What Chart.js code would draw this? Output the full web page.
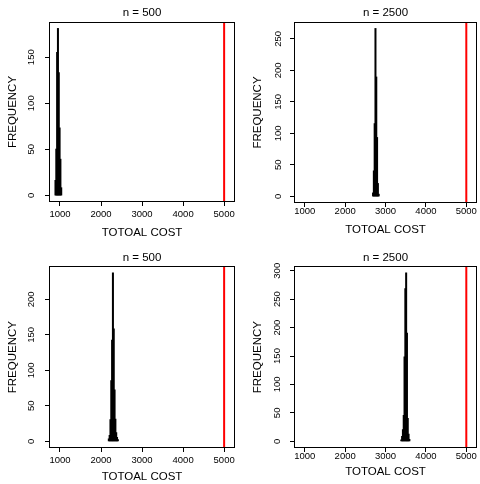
<!DOCTYPE html>
<html><head><meta charset="utf-8">
<script src="https://cdn.jsdelivr.net/npm/chart.js@4.4.1/dist/chart.umd.min.js"></script>
<style>
html,body{margin:0;padding:0;background:#fff;}
#grid{position:relative;width:480px;height:484px;background:#fff;}
.cell{position:absolute;width:240px;height:242px;}
canvas{display:block;}
</style></head><body>
<div id="grid">
<div class="cell" style="left:0;top:0"><canvas id="c1" width="240" height="242"></canvas></div>
<div class="cell" style="left:240px;top:0"><canvas id="c2" width="240" height="242"></canvas></div>
<div class="cell" style="left:0;top:242px"><canvas id="c3" width="240" height="242"></canvas></div>
<div class="cell" style="left:240px;top:242px"><canvas id="c4" width="240" height="242"></canvas></div>
</div>
<script>
// ---- data ----
const panelTitles = ['n = 500', 'n = 2500', 'n = 500', 'n = 2500'];
const xAxisLabel = 'TOTOAL COST';
const yAxisLabel = 'FREQUENCY';
const threshold = 5000;
const xTicks = [1000, 2000, 3000, 4000, 5000];

const costBins1 = [890, 910, 930, 950, 970, 990, 1010, 1030];
const freq1     = [16, 50, 155, 181, 133, 73, 39, 8];
const yTicks1   = [0, 50, 100, 150];

const costBins2 = [2690, 2710, 2730, 2750, 2770, 2790, 2810, 2830];
const freq2     = [5, 40, 115, 266, 189, 93, 20, 3];
const yTicks2   = [0, 50, 100, 150, 200, 250];

const costBins3 = [2190, 2210, 2230, 2250, 2270, 2290, 2310, 2330, 2350, 2370, 2390, 2410];
const freq3     = [3, 8, 30, 85, 142, 237, 158, 72, 31, 12, 5, 2];
const yTicks3   = [0, 50, 100, 150, 200];

const costBins4 = [3390, 3410, 3430, 3450, 3470, 3490, 3510, 3530, 3550, 3570, 3590];
const freq4     = [2, 8, 20, 45, 148, 268, 296, 190, 40, 12, 3];
const yTicks4   = [0, 50, 100, 150, 200, 250, 300];

// ---- layout (per panel) ----
const FONT = "'Liberation Sans', Arial, Helvetica, sans-serif";
const layouts = [
  {left:49, top:22,   right:235, bottom:202, titlePadTop:6.1, xTitlePad:1.8, xTickPad:2.6, yTickPad:5.8, yTitlePad:6.4, xMin:732, xMax:5265},
  {left:54, top:22,   right:237, bottom:203, titlePadTop:6.1, xTitlePad:5.1, xTickPad:-1,  yTickPad:3.2, yTitlePad:11.4, xMin:732, xMax:5265},
  {left:49, top:24.3, right:235, bottom:206, titlePadTop:9.1, xTitlePad:0,   xTickPad:2.6, yTickPad:5.8, yTitlePad:6.4, xMin:732, xMax:5265},
  {left:54, top:24.3, right:237, bottom:206, titlePadTop:9.1, xTitlePad:5.1, xTickPad:-1,  yTickPad:4.2, yTitlePad:11.4, xMin:732, xMax:5265}
];

const boxPlugin = {
  id: 'box',
  afterDraw(chart) {
    const a = chart.chartArea, ctx = chart.ctx;
    ctx.save();
    ctx.strokeStyle = '#000';
    ctx.lineWidth = 1;
    ctx.strokeRect(Math.round(a.left) + 0.5, Math.round(a.top) + 0.5,
                   Math.round(a.right - a.left) - 1, Math.round(a.bottom - a.top) - 1);
    ctx.restore();
  }
};

const plainNumber = v => String(v);

function makePanel(id, bins, freq, yTicks, title, L) {
  const peak = Math.max(...freq);
  const yMin = -0.04 * peak, yMax = 1.04 * peak;
  const W = 240, H = 242;
  const titleFont = {family: FONT, size: 11.5, weight: 'normal', lineHeight: 1.2};
  const tickFont = {family: FONT, size: 9.5, lineHeight: 1.2};
  new Chart(document.getElementById(id), {
    type: 'bar',
    data: {
      datasets: [
        {
          type: 'bar',
          data: bins.map((b, i) => ({x: b, y: freq[i]})),
          backgroundColor: '#000',
          borderWidth: 0,
          inflateAmount: 0.6,
          barPercentage: 1,
          categoryPercentage: 1,
          order: 2
        },
        {
          type: 'line',
          data: [{x: threshold, y: yMin}, {x: threshold, y: yMax}],
          borderColor: '#ff0000',
          borderWidth: 2,
          pointRadius: 0,
          fill: false,
          order: 1
        }
      ]
    },
    options: {
      responsive: false,
      animation: false,
      devicePixelRatio: 1,
      layout: {padding: {left: 0, top: 0, bottom: 0, right: W - L.right}},
      plugins: {
        legend: {display: false},
        tooltip: {enabled: false},
        title: {
          display: true, text: title, color: '#000', font: titleFont, fullSize: false,
          padding: {top: L.titlePadTop, bottom: L.top - 13.8 - L.titlePadTop}
        }
      },
      scales: {
        x: {
          type: 'linear', min: L.xMin, max: L.xMax, offset: false,
          grid: {display: true, drawOnChartArea: false, drawTicks: true, tickLength: 4, color: '#000', lineWidth: 1, offset: false},
          border: {display: false},
          ticks: {color: '#000', font: tickFont, padding: L.xTickPad, maxRotation: 0, minRotation: 0, autoSkip: false, callback: plainNumber},
          afterBuildTicks: s => { s.ticks = xTicks.map(v => ({value: v})); },
          afterFit: s => { s.height = H - L.bottom; },
          title: {display: true, text: xAxisLabel, color: '#000', font: titleFont, padding: {top: 0, bottom: L.xTitlePad}}
        },
        y: {
          type: 'linear', min: yMin, max: yMax,
          grid: {display: true, drawOnChartArea: false, drawTicks: true, tickLength: 4, color: '#000', lineWidth: 1},
          border: {display: false},
          ticks: {color: '#000', font: tickFont, padding: L.yTickPad, minRotation: 90, maxRotation: 90, crossAlign: 'center', autoSkip: false, callback: plainNumber},
          afterBuildTicks: s => { s.ticks = yTicks.map(v => ({value: v})); },
          afterFit: s => { s.width = L.left; },
          title: {display: true, text: yAxisLabel, color: '#000', font: titleFont, padding: {top: L.yTitlePad, bottom: 0}}
        }
      }
    },
    plugins: [boxPlugin]
  });
}

makePanel('c1', costBins1, freq1, yTicks1, panelTitles[0], layouts[0]);
makePanel('c2', costBins2, freq2, yTicks2, panelTitles[1], layouts[1]);
makePanel('c3', costBins3, freq3, yTicks3, panelTitles[2], layouts[2]);
makePanel('c4', costBins4, freq4, yTicks4, panelTitles[3], layouts[3]);
</script>
</body></html>
